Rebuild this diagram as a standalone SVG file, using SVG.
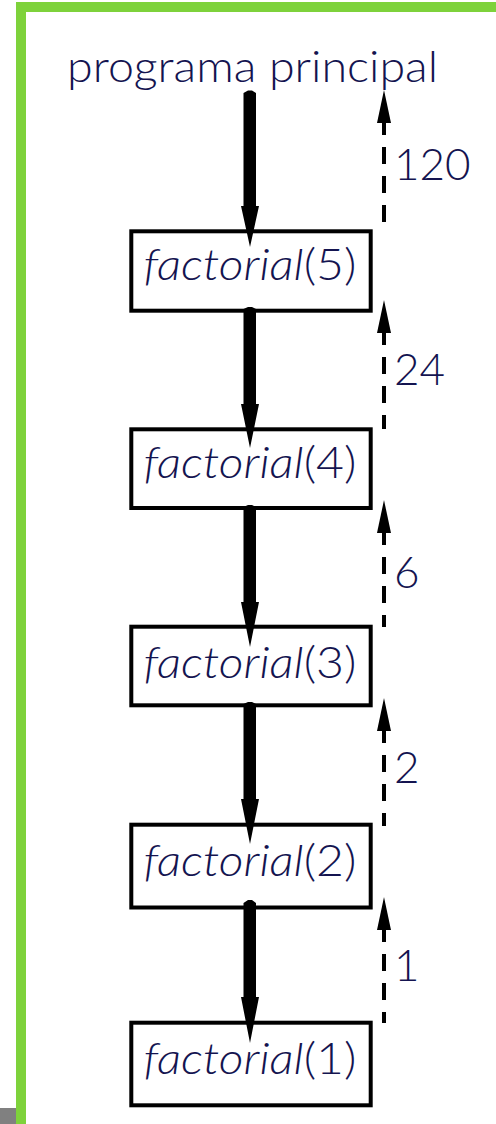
<svg xmlns="http://www.w3.org/2000/svg" width="496" height="1124" viewBox="0 0 496 1124">
  <style>
    .frame { fill: #7ed23b; }
    .lbl { font-family: Lato, "Open Sans", "Liberation Sans", sans-serif; font-size: 44px; font-weight: 300; fill: #141450; }
    .fn { font-style: italic; }
    .box { fill: #ffffff; stroke: #000000; stroke-width: 4; }
    .call { fill: #000000; stroke: none; }
    .ret { fill: none; stroke: #000000; stroke-width: 4; stroke-dasharray: 17 12; }
    .rethead { fill: #000000; }
  </style>

  <rect width="496" height="1124" fill="#ffffff"/>

  <!-- page frame -->
  <g id="frame">
    <rect class="frame" x="16" y="2" width="480" height="10"/>
    <rect class="frame" x="16" y="2" width="10" height="1122"/>
    <rect x="0" y="1108" width="16" height="16" fill="#808080"/>
  </g>

  <!-- caller -->
  <g id="main">
    <text class="lbl" x="67" y="82" textLength="371" lengthAdjust="spacingAndGlyphs">programa principal</text>
  </g>

  <!-- recursive calls -->
  <g id="f5">
    <rect class="box" x="131.3" y="231.3" width="239.4" height="79.4"/>
    <text class="lbl" x="143.5" y="280" textLength="213" lengthAdjust="spacingAndGlyphs"><tspan class="fn">factorial</tspan>(5)</text>
  </g>
  <g id="f4">
    <rect class="box" x="131.3" y="429.3" width="239.4" height="78.7"/>
    <text class="lbl" x="143.5" y="478" textLength="213" lengthAdjust="spacingAndGlyphs"><tspan class="fn">factorial</tspan>(4)</text>
  </g>
  <g id="f3">
    <rect class="box" x="131.3" y="626.7" width="239.4" height="78.6"/>
    <text class="lbl" x="143.5" y="678" textLength="213" lengthAdjust="spacingAndGlyphs"><tspan class="fn">factorial</tspan>(3)</text>
  </g>
  <g id="f2">
    <rect class="box" x="131.3" y="824.7" width="239.4" height="82.8"/>
    <text class="lbl" x="143.5" y="876" textLength="213" lengthAdjust="spacingAndGlyphs"><tspan class="fn">factorial</tspan>(2)</text>
  </g>
  <g id="f1">
    <rect class="box" x="131.3" y="1022.7" width="239.4" height="82.6"/>
    <text class="lbl" x="143.5" y="1074" textLength="213" lengthAdjust="spacingAndGlyphs"><tspan class="fn">factorial</tspan>(1)</text>
  </g>

  <!-- connectors: thick call arrows down, dashed return arrows up -->
  <g id="connectors">
    <path class="call" d="M243.5,93 L248,90.5 L252,90.5 L256,93 L256,206 L259,206 L250,247 L241,206 L243.5,206 Z"/>
    <path class="call" d="M243.5,309 L248,307 L252,307 L256,309 L256,404 L259,404 L250,448 L241,404 L243.5,404 Z"/>
    <path class="call" d="M243.5,507 L248,505 L252,505 L256,507 L256,602 L259,602 L250,647 L241,602 L243.5,602 Z"/>
    <path class="call" d="M243.5,704 L248,702 L252,702 L256,704 L256,799 L259,799 L250,844 L241,799 L243.5,799 Z"/>
    <path class="call" d="M243.5,903 L248,900 L252,900 L256,903 L256,997 L259,997 L250,1043 L241,997 L243.5,997 Z"/>

    <path class="ret" d="M384,118 V231"/>
    <polygon class="rethead" points="384,90 391,123 377,123"/>
    <path class="ret" d="M384,328 V429"/>
    <polygon class="rethead" points="384,300 391,333 377,333"/>
    <path class="ret" d="M384,528 V627"/>
    <polygon class="rethead" points="384,500 391,533 377,533"/>
    <path class="ret" d="M384,726 V826"/>
    <polygon class="rethead" points="384,698 391,731 377,731"/>
    <path class="ret" d="M384,925 V1023"/>
    <polygon class="rethead" points="384,897 391,930 377,930"/>
  </g>

  <!-- returned values -->
  <g id="values">
    <text class="lbl" x="394" y="180">120</text>
    <text class="lbl" x="394" y="385">24</text>
    <text class="lbl" x="394" y="588">6</text>
    <text class="lbl" x="394" y="783">2</text>
    <text class="lbl" x="394" y="981">1</text>
  </g>
</svg>
